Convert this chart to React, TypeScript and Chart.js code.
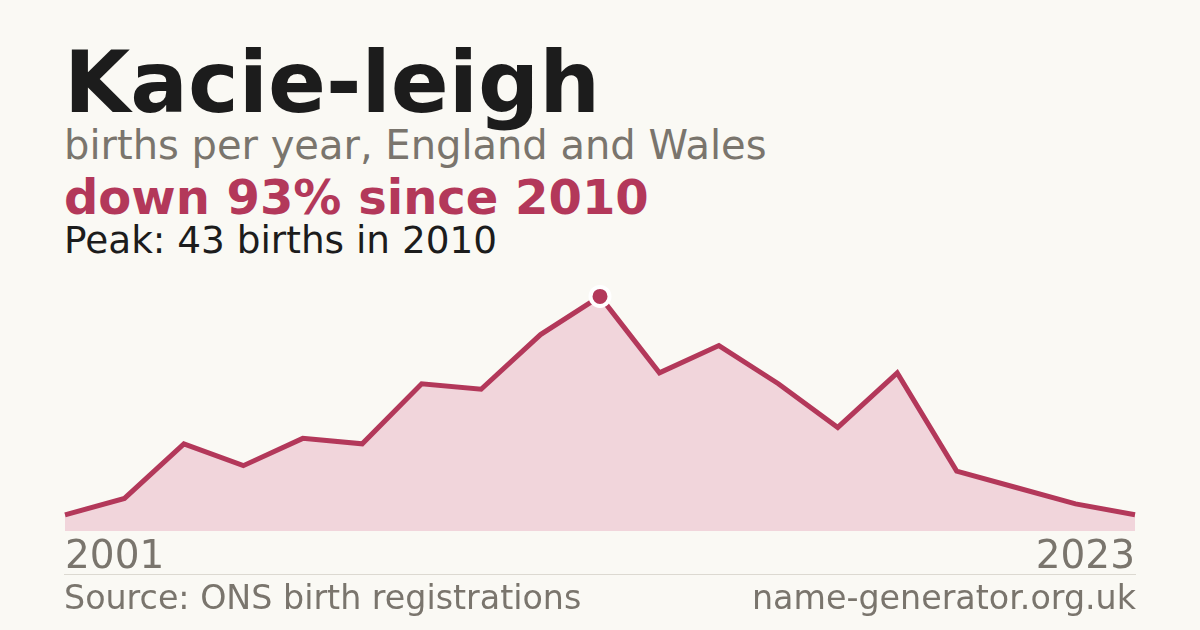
import { useEffect, useRef } from "react"
import { Chart, registerables } from "chart.js"

Chart.register(...registerables)

// births per year (years with fewer than 3 births are not published)
const years = [
  "2001", "2002", "2003", "2004", "2005", "2006", "2007", "2008", "2009", "2010",
  "2011", "2012", "2013", "2014", "2016", "2018", "2020", "2021", "2023",
]
const births = [3, 6, 16, 12, 17, 16, 27, 26, 36, 43, 29, 34, 27, 19, 29, 11, 8, 5, 3]
const peakIndex = 9

const RED = "#b3385a"
const GREY = "#7a756d"
const FONT = "'DejaVu Sans', sans-serif"

function NameChart() {
  const chartRef = useRef<HTMLCanvasElement>(null)
  const chartInstance = useRef<Chart | null>(null)

  useEffect(() => {
    if (!chartRef.current) return
    if (chartInstance.current) chartInstance.current.destroy()
    const ctx = chartRef.current.getContext("2d")
    if (!ctx) return

    chartInstance.current = new Chart(ctx, {
      type: "line",
      data: {
        labels: years,
        datasets: [
          {
            data: births,
            borderColor: RED,
            borderWidth: 5,
            backgroundColor: "#f1d5db",
            fill: "origin",
            tension: 0,
            clip: false,
            pointRadius: births.map((_, i) => (i === peakIndex ? 9.5 : 0)),
            pointBackgroundColor: RED,
            pointBorderColor: "#ffffff",
            pointBorderWidth: 4,
          },
        ],
      },
      options: {
        animation: false,
        responsive: true,
        maintainAspectRatio: false,
        layout: { autoPadding: false, padding: { top: 10, left: 0, right: 0, bottom: 0 } },
        plugins: {
          legend: { display: false },
          tooltip: { enabled: false },
        },
        scales: {
          x: {
            offset: false,
            grid: { display: false, drawTicks: false },
            border: { display: false },
            ticks: {
              autoSkip: false,
              maxRotation: 0,
              align: "inner",
              padding: 3,
              color: GREY,
              font: { family: FONT, size: 39 },
              callback: (_v, i) =>
                i === 0 || i === years.length - 1 ? years[i] : "",
            },
          },
          y: {
            display: false,
            min: 0,
            max: 46,
          },
        },
      },
    })

    return () => {
      if (chartInstance.current) {
        chartInstance.current.destroy()
        chartInstance.current = null
      }
    }
  }, [])

  // the scale keeps a small inset on each side, so the box is a little wider
  return (
    <div style={{ position: "absolute", left: 62, top: 270, width: 1076, height: 314 }}>
      <canvas ref={chartRef}></canvas>
    </div>
  )
}

const text = (top: number, size: number, color: string, bold = false): React.CSSProperties => ({
  position: "absolute",
  top,
  left: 64,
  margin: 0,
  fontFamily: FONT,
  fontSize: size,
  lineHeight: `${size}px`,
  fontWeight: bold ? 700 : 400,
  color,
  whiteSpace: "nowrap",
})

export default function App() {
  return (
    <div
      style={{
        position: "fixed",
        left: 0,
        top: 0,
        width: 1200,
        height: 630,
        background: "#faf9f4",
        overflow: "hidden",
      }}
    >
      <div style={text(40, 85.5, "#1c1c1c", true)}>Kacie-leigh</div>
      <div style={text(125, 40, GREY)}>births per year, England and Wales</div>
      <div style={text(173, 48, RED, true)}>down 93% since 2010</div>
      <div style={text(222, 37.4, "#1c1c1c")}>Peak: 43 births in 2010</div>
      <NameChart />
      <div
        style={{
          position: "absolute",
          left: 64,
          top: 574,
          width: 1072,
          height: 1,
          background: "#dcd9d1",
        }}
      />
      <div style={text(581, 33.3, GREY)}>Source: ONS birth registrations</div>
      <div style={{ ...text(581, 33.3, GREY), left: "auto", right: 64 }}>name-generator.org.uk</div>
    </div>
  )
}
